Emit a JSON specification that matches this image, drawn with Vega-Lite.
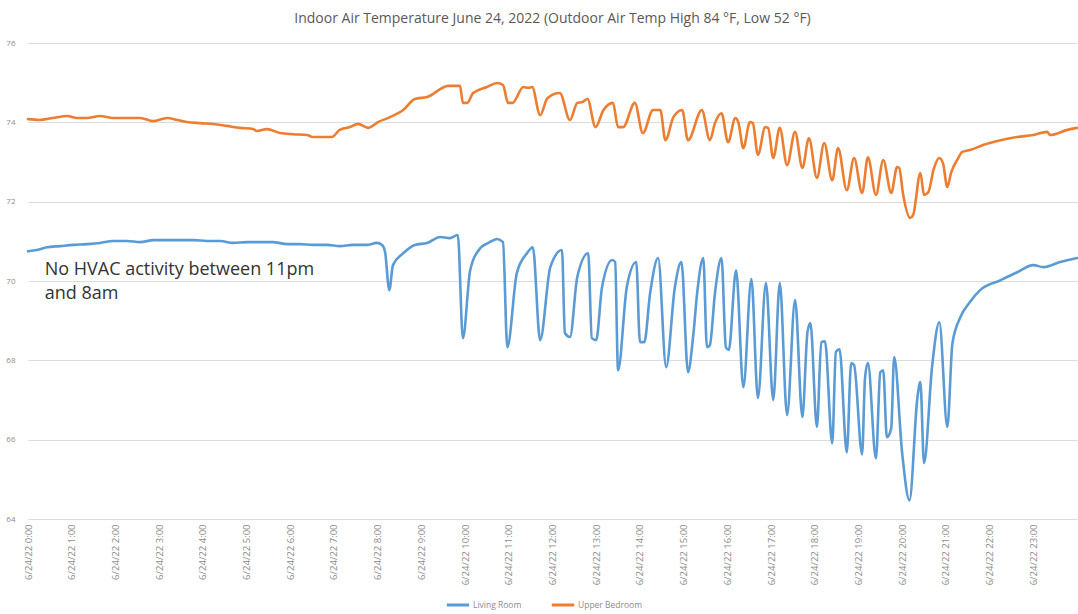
{
  "$schema": "https://vega.github.io/schema/vega-lite/v6.json",
  "width": 1049,
  "height": 476,
  "autosize": {"type": "none"},
  "padding": {"left": 28, "right": 1, "top": 43, "bottom": 95},
  "background": "white",
  "title": {
    "text": "Indoor Air Temperature June 24, 2022 (Outdoor Air Temp High 84 °F, Low 52 °F)",
    "font": "Open Sans",
    "fontSize": 14,
    "fontWeight": "normal",
    "color": "#595959",
    "anchor": "middle",
    "offset": 13
  },
  "config": {
    "view": {"stroke": null},
    "axis": {"labelFont": "Open Sans", "labelColor": "#8c8c8c", "domain": false, "ticks": false, "title": null}
  },
  "datasets": {
    "temps": [
      {"time": "2022-06-24T00:00", "room": "Living Room", "temp": 70.75},
      {"time": "2022-06-24T00:12", "room": "Living Room", "temp": 70.78},
      {"time": "2022-06-24T00:26", "room": "Living Room", "temp": 70.85},
      {"time": "2022-06-24T00:44", "room": "Living Room", "temp": 70.88},
      {"time": "2022-06-24T01:02", "room": "Living Room", "temp": 70.91},
      {"time": "2022-06-24T01:21", "room": "Living Room", "temp": 70.93},
      {"time": "2022-06-24T01:39", "room": "Living Room", "temp": 70.96},
      {"time": "2022-06-24T01:57", "room": "Living Room", "temp": 71.01},
      {"time": "2022-06-24T02:16", "room": "Living Room", "temp": 71.01},
      {"time": "2022-06-24T02:34", "room": "Living Room", "temp": 70.98},
      {"time": "2022-06-24T02:52", "room": "Living Room", "temp": 71.03},
      {"time": "2022-06-24T03:15", "room": "Living Room", "temp": 71.03},
      {"time": "2022-06-24T03:47", "room": "Living Room", "temp": 71.03},
      {"time": "2022-06-24T04:06", "room": "Living Room", "temp": 71.01},
      {"time": "2022-06-24T04:24", "room": "Living Room", "temp": 71.01},
      {"time": "2022-06-24T04:41", "room": "Living Room", "temp": 70.96},
      {"time": "2022-06-24T05:01", "room": "Living Room", "temp": 70.98},
      {"time": "2022-06-24T05:19", "room": "Living Room", "temp": 70.98},
      {"time": "2022-06-24T05:36", "room": "Living Room", "temp": 70.98},
      {"time": "2022-06-24T05:56", "room": "Living Room", "temp": 70.93},
      {"time": "2022-06-24T06:13", "room": "Living Room", "temp": 70.93},
      {"time": "2022-06-24T06:31", "room": "Living Room", "temp": 70.91},
      {"time": "2022-06-24T06:51", "room": "Living Room", "temp": 70.91},
      {"time": "2022-06-24T07:08", "room": "Living Room", "temp": 70.88},
      {"time": "2022-06-24T07:26", "room": "Living Room", "temp": 70.91},
      {"time": "2022-06-24T07:45", "room": "Living Room", "temp": 70.91},
      {"time": "2022-06-24T07:59", "room": "Living Room", "temp": 70.96},
      {"time": "2022-06-24T08:06", "room": "Living Room", "temp": 70.91},
      {"time": "2022-06-24T08:10", "room": "Living Room", "temp": 70.75},
      {"time": "2022-06-24T08:16", "room": "Living Room", "temp": 69.77},
      {"time": "2022-06-24T08:21", "room": "Living Room", "temp": 70.40},
      {"time": "2022-06-24T08:35", "room": "Living Room", "temp": 70.70},
      {"time": "2022-06-24T08:51", "room": "Living Room", "temp": 70.91},
      {"time": "2022-06-24T09:08", "room": "Living Room", "temp": 70.96},
      {"time": "2022-06-24T09:26", "room": "Living Room", "temp": 71.11},
      {"time": "2022-06-24T09:39", "room": "Living Room", "temp": 71.08},
      {"time": "2022-06-24T09:50", "room": "Living Room", "temp": 71.16},
      {"time": "2022-06-24T09:57", "room": "Living Room", "temp": 68.56},
      {"time": "2022-06-24T10:07", "room": "Living Room", "temp": 70.27},
      {"time": "2022-06-24T10:21", "room": "Living Room", "temp": 70.83},
      {"time": "2022-06-24T10:32", "room": "Living Room", "temp": 70.96},
      {"time": "2022-06-24T10:44", "room": "Living Room", "temp": 71.06},
      {"time": "2022-06-24T10:52", "room": "Living Room", "temp": 70.98},
      {"time": "2022-06-24T10:58", "room": "Living Room", "temp": 68.33},
      {"time": "2022-06-24T11:11", "room": "Living Room", "temp": 70.20},
      {"time": "2022-06-24T11:25", "room": "Living Room", "temp": 70.70},
      {"time": "2022-06-24T11:33", "room": "Living Room", "temp": 70.85},
      {"time": "2022-06-24T11:43", "room": "Living Room", "temp": 68.51},
      {"time": "2022-06-24T11:57", "room": "Living Room", "temp": 70.35},
      {"time": "2022-06-24T12:13", "room": "Living Room", "temp": 70.78},
      {"time": "2022-06-24T12:17", "room": "Living Room", "temp": 68.69},
      {"time": "2022-06-24T12:24", "room": "Living Room", "temp": 68.59},
      {"time": "2022-06-24T12:34", "room": "Living Room", "temp": 70.10},
      {"time": "2022-06-24T12:49", "room": "Living Room", "temp": 70.70},
      {"time": "2022-06-24T12:54", "room": "Living Room", "temp": 68.56},
      {"time": "2022-06-24T13:00", "room": "Living Room", "temp": 68.51},
      {"time": "2022-06-24T13:08", "room": "Living Room", "temp": 69.85},
      {"time": "2022-06-24T13:22", "room": "Living Room", "temp": 70.53},
      {"time": "2022-06-24T13:26", "room": "Living Room", "temp": 70.48},
      {"time": "2022-06-24T13:30", "room": "Living Room", "temp": 67.75},
      {"time": "2022-06-24T13:42", "room": "Living Room", "temp": 69.85},
      {"time": "2022-06-24T13:55", "room": "Living Room", "temp": 70.48},
      {"time": "2022-06-24T14:00", "room": "Living Room", "temp": 68.46},
      {"time": "2022-06-24T14:06", "room": "Living Room", "temp": 68.46},
      {"time": "2022-06-24T14:14", "room": "Living Room", "temp": 69.69},
      {"time": "2022-06-24T14:25", "room": "Living Room", "temp": 70.58},
      {"time": "2022-06-24T14:36", "room": "Living Room", "temp": 67.83},
      {"time": "2022-06-24T14:48", "room": "Living Room", "temp": 69.85},
      {"time": "2022-06-24T14:57", "room": "Living Room", "temp": 70.48},
      {"time": "2022-06-24T15:06", "room": "Living Room", "temp": 67.70},
      {"time": "2022-06-24T15:13", "room": "Living Room", "temp": 68.59},
      {"time": "2022-06-24T15:19", "room": "Living Room", "temp": 69.77},
      {"time": "2022-06-24T15:27", "room": "Living Room", "temp": 70.58},
      {"time": "2022-06-24T15:32", "room": "Living Room", "temp": 68.33},
      {"time": "2022-06-24T15:36", "room": "Living Room", "temp": 68.38},
      {"time": "2022-06-24T15:43", "room": "Living Room", "temp": 69.69},
      {"time": "2022-06-24T15:52", "room": "Living Room", "temp": 70.58},
      {"time": "2022-06-24T15:58", "room": "Living Room", "temp": 68.33},
      {"time": "2022-06-24T16:02", "room": "Living Room", "temp": 68.26},
      {"time": "2022-06-24T16:12", "room": "Living Room", "temp": 70.27},
      {"time": "2022-06-24T16:22", "room": "Living Room", "temp": 67.32},
      {"time": "2022-06-24T16:33", "room": "Living Room", "temp": 70.05},
      {"time": "2022-06-24T16:42", "room": "Living Room", "temp": 67.05},
      {"time": "2022-06-24T16:53", "room": "Living Room", "temp": 69.95},
      {"time": "2022-06-24T17:03", "room": "Living Room", "temp": 67.00},
      {"time": "2022-06-24T17:12", "room": "Living Room", "temp": 69.95},
      {"time": "2022-06-24T17:22", "room": "Living Room", "temp": 66.62},
      {"time": "2022-06-24T17:33", "room": "Living Room", "temp": 69.52},
      {"time": "2022-06-24T17:43", "room": "Living Room", "temp": 66.57},
      {"time": "2022-06-24T17:50", "room": "Living Room", "temp": 68.71},
      {"time": "2022-06-24T17:54", "room": "Living Room", "temp": 68.94},
      {"time": "2022-06-24T18:03", "room": "Living Room", "temp": 66.32},
      {"time": "2022-06-24T18:09", "room": "Living Room", "temp": 68.46},
      {"time": "2022-06-24T18:14", "room": "Living Room", "temp": 68.48},
      {"time": "2022-06-24T18:24", "room": "Living Room", "temp": 65.91},
      {"time": "2022-06-24T18:29", "room": "Living Room", "temp": 68.21},
      {"time": "2022-06-24T18:34", "room": "Living Room", "temp": 68.28},
      {"time": "2022-06-24T18:44", "room": "Living Room", "temp": 65.68},
      {"time": "2022-06-24T18:50", "room": "Living Room", "temp": 67.93},
      {"time": "2022-06-24T18:54", "room": "Living Room", "temp": 67.88},
      {"time": "2022-06-24T19:05", "room": "Living Room", "temp": 65.63},
      {"time": "2022-06-24T19:09", "room": "Living Room", "temp": 67.55},
      {"time": "2022-06-24T19:13", "room": "Living Room", "temp": 67.93},
      {"time": "2022-06-24T19:24", "room": "Living Room", "temp": 65.53},
      {"time": "2022-06-24T19:30", "room": "Living Room", "temp": 67.70},
      {"time": "2022-06-24T19:34", "room": "Living Room", "temp": 67.75},
      {"time": "2022-06-24T19:39", "room": "Living Room", "temp": 66.06},
      {"time": "2022-06-24T19:45", "room": "Living Room", "temp": 66.29},
      {"time": "2022-06-24T19:49", "room": "Living Room", "temp": 68.08},
      {"time": "2022-06-24T20:00", "room": "Living Room", "temp": 65.66},
      {"time": "2022-06-24T20:10", "room": "Living Room", "temp": 64.47},
      {"time": "2022-06-24T20:21", "room": "Living Room", "temp": 67.07},
      {"time": "2022-06-24T20:25", "room": "Living Room", "temp": 67.45},
      {"time": "2022-06-24T20:30", "room": "Living Room", "temp": 65.41},
      {"time": "2022-06-24T20:41", "room": "Living Room", "temp": 67.83},
      {"time": "2022-06-24T20:51", "room": "Living Room", "temp": 68.96},
      {"time": "2022-06-24T21:02", "room": "Living Room", "temp": 66.32},
      {"time": "2022-06-24T21:09", "room": "Living Room", "temp": 68.43},
      {"time": "2022-06-24T21:20", "room": "Living Room", "temp": 69.09},
      {"time": "2022-06-24T21:33", "room": "Living Room", "temp": 69.47},
      {"time": "2022-06-24T21:47", "room": "Living Room", "temp": 69.77},
      {"time": "2022-06-24T22:15", "room": "Living Room", "temp": 70.02},
      {"time": "2022-06-24T22:38", "room": "Living Room", "temp": 70.22},
      {"time": "2022-06-24T23:00", "room": "Living Room", "temp": 70.40},
      {"time": "2022-06-24T23:14", "room": "Living Room", "temp": 70.35},
      {"time": "2022-06-24T23:37", "room": "Living Room", "temp": 70.48},
      {"time": "2022-06-25T00:00", "room": "Living Room", "temp": 70.58},
      {"time": "2022-06-24T00:00", "room": "Upper Bedroom", "temp": 74.08},
      {"time": "2022-06-24T00:16", "room": "Upper Bedroom", "temp": 74.06},
      {"time": "2022-06-24T00:34", "room": "Upper Bedroom", "temp": 74.11},
      {"time": "2022-06-24T00:54", "room": "Upper Bedroom", "temp": 74.16},
      {"time": "2022-06-24T01:07", "room": "Upper Bedroom", "temp": 74.11},
      {"time": "2022-06-24T01:21", "room": "Upper Bedroom", "temp": 74.11},
      {"time": "2022-06-24T01:39", "room": "Upper Bedroom", "temp": 74.16},
      {"time": "2022-06-24T01:57", "room": "Upper Bedroom", "temp": 74.11},
      {"time": "2022-06-24T02:16", "room": "Upper Bedroom", "temp": 74.11},
      {"time": "2022-06-24T02:34", "room": "Upper Bedroom", "temp": 74.11},
      {"time": "2022-06-24T02:52", "room": "Upper Bedroom", "temp": 74.03},
      {"time": "2022-06-24T03:11", "room": "Upper Bedroom", "temp": 74.11},
      {"time": "2022-06-24T03:25", "room": "Upper Bedroom", "temp": 74.06},
      {"time": "2022-06-24T03:38", "room": "Upper Bedroom", "temp": 74.01},
      {"time": "2022-06-24T03:56", "room": "Upper Bedroom", "temp": 73.98},
      {"time": "2022-06-24T04:14", "room": "Upper Bedroom", "temp": 73.96},
      {"time": "2022-06-24T04:33", "room": "Upper Bedroom", "temp": 73.91},
      {"time": "2022-06-24T04:51", "room": "Upper Bedroom", "temp": 73.86},
      {"time": "2022-06-24T05:09", "room": "Upper Bedroom", "temp": 73.83},
      {"time": "2022-06-24T05:14", "room": "Upper Bedroom", "temp": 73.78},
      {"time": "2022-06-24T05:28", "room": "Upper Bedroom", "temp": 73.83},
      {"time": "2022-06-24T05:46", "room": "Upper Bedroom", "temp": 73.73},
      {"time": "2022-06-24T06:04", "room": "Upper Bedroom", "temp": 73.70},
      {"time": "2022-06-24T06:23", "room": "Upper Bedroom", "temp": 73.68},
      {"time": "2022-06-24T06:31", "room": "Upper Bedroom", "temp": 73.63},
      {"time": "2022-06-24T06:51", "room": "Upper Bedroom", "temp": 73.63},
      {"time": "2022-06-24T06:57", "room": "Upper Bedroom", "temp": 73.63},
      {"time": "2022-06-24T07:08", "room": "Upper Bedroom", "temp": 73.81},
      {"time": "2022-06-24T07:22", "room": "Upper Bedroom", "temp": 73.88},
      {"time": "2022-06-24T07:33", "room": "Upper Bedroom", "temp": 73.96},
      {"time": "2022-06-24T07:47", "room": "Upper Bedroom", "temp": 73.86},
      {"time": "2022-06-24T08:01", "room": "Upper Bedroom", "temp": 74.01},
      {"time": "2022-06-24T08:17", "room": "Upper Bedroom", "temp": 74.13},
      {"time": "2022-06-24T08:35", "room": "Upper Bedroom", "temp": 74.31},
      {"time": "2022-06-24T08:51", "room": "Upper Bedroom", "temp": 74.59},
      {"time": "2022-06-24T09:08", "room": "Upper Bedroom", "temp": 74.64},
      {"time": "2022-06-24T09:37", "room": "Upper Bedroom", "temp": 74.92},
      {"time": "2022-06-24T09:53", "room": "Upper Bedroom", "temp": 74.92},
      {"time": "2022-06-24T09:57", "room": "Upper Bedroom", "temp": 74.49},
      {"time": "2022-06-24T10:03", "room": "Upper Bedroom", "temp": 74.49},
      {"time": "2022-06-24T10:11", "room": "Upper Bedroom", "temp": 74.74},
      {"time": "2022-06-24T10:30", "room": "Upper Bedroom", "temp": 74.89},
      {"time": "2022-06-24T10:44", "room": "Upper Bedroom", "temp": 74.99},
      {"time": "2022-06-24T10:52", "room": "Upper Bedroom", "temp": 74.94},
      {"time": "2022-06-24T10:59", "room": "Upper Bedroom", "temp": 74.49},
      {"time": "2022-06-24T11:05", "room": "Upper Bedroom", "temp": 74.49},
      {"time": "2022-06-24T11:20", "room": "Upper Bedroom", "temp": 74.89},
      {"time": "2022-06-24T11:27", "room": "Upper Bedroom", "temp": 74.87},
      {"time": "2022-06-24T11:32", "room": "Upper Bedroom", "temp": 74.89},
      {"time": "2022-06-24T11:43", "room": "Upper Bedroom", "temp": 74.18},
      {"time": "2022-06-24T11:53", "room": "Upper Bedroom", "temp": 74.61},
      {"time": "2022-06-24T12:10", "room": "Upper Bedroom", "temp": 74.74},
      {"time": "2022-06-24T12:24", "room": "Upper Bedroom", "temp": 74.06},
      {"time": "2022-06-24T12:34", "room": "Upper Bedroom", "temp": 74.49},
      {"time": "2022-06-24T12:41", "room": "Upper Bedroom", "temp": 74.51},
      {"time": "2022-06-24T12:48", "room": "Upper Bedroom", "temp": 74.59},
      {"time": "2022-06-24T12:59", "room": "Upper Bedroom", "temp": 73.88},
      {"time": "2022-06-24T13:10", "room": "Upper Bedroom", "temp": 74.31},
      {"time": "2022-06-24T13:23", "room": "Upper Bedroom", "temp": 74.49},
      {"time": "2022-06-24T13:30", "room": "Upper Bedroom", "temp": 73.88},
      {"time": "2022-06-24T13:37", "room": "Upper Bedroom", "temp": 73.88},
      {"time": "2022-06-24T13:53", "room": "Upper Bedroom", "temp": 74.49},
      {"time": "2022-06-24T14:04", "room": "Upper Bedroom", "temp": 73.73},
      {"time": "2022-06-24T14:18", "room": "Upper Bedroom", "temp": 74.31},
      {"time": "2022-06-24T14:28", "room": "Upper Bedroom", "temp": 74.31},
      {"time": "2022-06-24T14:35", "room": "Upper Bedroom", "temp": 73.55},
      {"time": "2022-06-24T14:46", "room": "Upper Bedroom", "temp": 74.13},
      {"time": "2022-06-24T14:58", "room": "Upper Bedroom", "temp": 74.31},
      {"time": "2022-06-24T15:06", "room": "Upper Bedroom", "temp": 73.55},
      {"time": "2022-06-24T15:25", "room": "Upper Bedroom", "temp": 74.31},
      {"time": "2022-06-24T15:36", "room": "Upper Bedroom", "temp": 73.55},
      {"time": "2022-06-24T15:43", "room": "Upper Bedroom", "temp": 73.98},
      {"time": "2022-06-24T15:52", "room": "Upper Bedroom", "temp": 74.23},
      {"time": "2022-06-24T16:01", "room": "Upper Bedroom", "temp": 73.50},
      {"time": "2022-06-24T16:11", "room": "Upper Bedroom", "temp": 74.11},
      {"time": "2022-06-24T16:15", "room": "Upper Bedroom", "temp": 74.01},
      {"time": "2022-06-24T16:22", "room": "Upper Bedroom", "temp": 73.35},
      {"time": "2022-06-24T16:31", "room": "Upper Bedroom", "temp": 74.01},
      {"time": "2022-06-24T16:35", "room": "Upper Bedroom", "temp": 73.98},
      {"time": "2022-06-24T16:42", "room": "Upper Bedroom", "temp": 73.18},
      {"time": "2022-06-24T16:52", "room": "Upper Bedroom", "temp": 73.88},
      {"time": "2022-06-24T16:56", "room": "Upper Bedroom", "temp": 73.86},
      {"time": "2022-06-24T17:03", "room": "Upper Bedroom", "temp": 73.10},
      {"time": "2022-06-24T17:12", "room": "Upper Bedroom", "temp": 73.86},
      {"time": "2022-06-24T17:22", "room": "Upper Bedroom", "temp": 72.92},
      {"time": "2022-06-24T17:33", "room": "Upper Bedroom", "temp": 73.76},
      {"time": "2022-06-24T17:43", "room": "Upper Bedroom", "temp": 72.85},
      {"time": "2022-06-24T17:52", "room": "Upper Bedroom", "temp": 73.60},
      {"time": "2022-06-24T18:03", "room": "Upper Bedroom", "temp": 72.60},
      {"time": "2022-06-24T18:13", "room": "Upper Bedroom", "temp": 73.48},
      {"time": "2022-06-24T18:24", "room": "Upper Bedroom", "temp": 72.54},
      {"time": "2022-06-24T18:32", "room": "Upper Bedroom", "temp": 73.35},
      {"time": "2022-06-24T18:44", "room": "Upper Bedroom", "temp": 72.29},
      {"time": "2022-06-24T18:54", "room": "Upper Bedroom", "temp": 73.10},
      {"time": "2022-06-24T19:05", "room": "Upper Bedroom", "temp": 72.22},
      {"time": "2022-06-24T19:13", "room": "Upper Bedroom", "temp": 73.12},
      {"time": "2022-06-24T19:24", "room": "Upper Bedroom", "temp": 72.17},
      {"time": "2022-06-24T19:34", "room": "Upper Bedroom", "temp": 73.05},
      {"time": "2022-06-24T19:45", "room": "Upper Bedroom", "temp": 72.22},
      {"time": "2022-06-24T19:53", "room": "Upper Bedroom", "temp": 72.87},
      {"time": "2022-06-24T19:56", "room": "Upper Bedroom", "temp": 72.85},
      {"time": "2022-06-24T20:01", "room": "Upper Bedroom", "temp": 72.22},
      {"time": "2022-06-24T20:11", "room": "Upper Bedroom", "temp": 71.59},
      {"time": "2022-06-24T20:15", "room": "Upper Bedroom", "temp": 71.66},
      {"time": "2022-06-24T20:25", "room": "Upper Bedroom", "temp": 72.72},
      {"time": "2022-06-24T20:30", "room": "Upper Bedroom", "temp": 72.17},
      {"time": "2022-06-24T20:36", "room": "Upper Bedroom", "temp": 72.24},
      {"time": "2022-06-24T20:43", "room": "Upper Bedroom", "temp": 72.80},
      {"time": "2022-06-24T20:51", "room": "Upper Bedroom", "temp": 73.10},
      {"time": "2022-06-24T20:56", "room": "Upper Bedroom", "temp": 72.97},
      {"time": "2022-06-24T21:02", "room": "Upper Bedroom", "temp": 72.37},
      {"time": "2022-06-24T21:07", "room": "Upper Bedroom", "temp": 72.72},
      {"time": "2022-06-24T21:17", "room": "Upper Bedroom", "temp": 73.10},
      {"time": "2022-06-24T21:22", "room": "Upper Bedroom", "temp": 73.25},
      {"time": "2022-06-24T21:33", "room": "Upper Bedroom", "temp": 73.30},
      {"time": "2022-06-24T21:51", "room": "Upper Bedroom", "temp": 73.43},
      {"time": "2022-06-24T22:15", "room": "Upper Bedroom", "temp": 73.55},
      {"time": "2022-06-24T22:38", "room": "Upper Bedroom", "temp": 73.63},
      {"time": "2022-06-24T23:00", "room": "Upper Bedroom", "temp": 73.68},
      {"time": "2022-06-24T23:19", "room": "Upper Bedroom", "temp": 73.76},
      {"time": "2022-06-24T23:23", "room": "Upper Bedroom", "temp": 73.68},
      {"time": "2022-06-24T23:47", "room": "Upper Bedroom", "temp": 73.81},
      {"time": "2022-06-25T00:00", "room": "Upper Bedroom", "temp": 73.86}
    ],
    "notes": [
      {"time": "2022-06-24T00:23", "temp": 70.5, "label": "No HVAC activity between 11pm\nand 8am"}
    ]
  },
  "layer": [
    {
      "data": {"name": "temps"},
      "mark": {"type": "line", "interpolate": "monotone", "strokeWidth": 2.6, "strokeJoin": "round", "strokeCap": "round"},
      "encoding": {
        "x": {
          "field": "time",
          "type": "temporal",
          "scale": {"domain": [{"year": 2022, "month": 6, "date": 24, "hours": 0}, {"year": 2022, "month": 6, "date": 25, "hours": 0}]},
          "axis": {
            "values": [
              {"year": 2022, "month": 6, "date": 24, "hours": 0}, {"year": 2022, "month": 6, "date": 24, "hours": 1},
              {"year": 2022, "month": 6, "date": 24, "hours": 2}, {"year": 2022, "month": 6, "date": 24, "hours": 3},
              {"year": 2022, "month": 6, "date": 24, "hours": 4}, {"year": 2022, "month": 6, "date": 24, "hours": 5},
              {"year": 2022, "month": 6, "date": 24, "hours": 6}, {"year": 2022, "month": 6, "date": 24, "hours": 7},
              {"year": 2022, "month": 6, "date": 24, "hours": 8}, {"year": 2022, "month": 6, "date": 24, "hours": 9},
              {"year": 2022, "month": 6, "date": 24, "hours": 10}, {"year": 2022, "month": 6, "date": 24, "hours": 11},
              {"year": 2022, "month": 6, "date": 24, "hours": 12}, {"year": 2022, "month": 6, "date": 24, "hours": 13},
              {"year": 2022, "month": 6, "date": 24, "hours": 14}, {"year": 2022, "month": 6, "date": 24, "hours": 15},
              {"year": 2022, "month": 6, "date": 24, "hours": 16}, {"year": 2022, "month": 6, "date": 24, "hours": 17},
              {"year": 2022, "month": 6, "date": 24, "hours": 18}, {"year": 2022, "month": 6, "date": 24, "hours": 19},
              {"year": 2022, "month": 6, "date": 24, "hours": 20}, {"year": 2022, "month": 6, "date": 24, "hours": 21},
              {"year": 2022, "month": 6, "date": 24, "hours": 22}, {"year": 2022, "month": 6, "date": 24, "hours": 23}
            ],
            "format": "%-m/%d/%y %-H:%M",
            "labelAngle": -90,
            "labelFontSize": 9.5,
            "labelPadding": 5,
            "grid": false,
            "labelOverlap": false
          }
        },
        "y": {
          "field": "temp",
          "type": "quantitative",
          "scale": {"domain": [64, 76], "zero": false, "nice": false},
          "axis": {
            "values": [64, 66, 68, 70, 72, 74, 76],
            "labelFontSize": 8,
            "labelPadding": 13,
            "grid": true,
            "gridColor": "#dcdcdc",
            "gridWidth": 1
          }
        },
        "color": {
          "field": "room",
          "type": "nominal",
          "scale": {"domain": ["Living Room", "Upper Bedroom"], "range": ["#5B9BD5", "#ED7D31"]},
          "legend": {
            "title": null,
            "orient": "none",
            "legendX": 417,
            "legendY": 549,
            "direction": "horizontal",
            "symbolType": "stroke",
            "symbolSize": 500,
            "symbolStrokeWidth": 3,
            "labelFont": "Open Sans",
            "labelFontSize": 8.5,
            "labelColor": "#8c8c8c",
            "labelOffset": 2,
            "columnPadding": 23
          }
        }
      }
    },
    {
      "data": {"name": "notes"},
      "mark": {"type": "text", "align": "left", "baseline": "top", "font": "Open Sans", "fontSize": 18, "color": "#333333", "lineBreak": "\n", "lineHeight": 24},
      "encoding": {
        "x": {"field": "time", "type": "temporal"},
        "y": {"field": "temp", "type": "quantitative"},
        "text": {"field": "label"}
      }
    }
  ]
}
